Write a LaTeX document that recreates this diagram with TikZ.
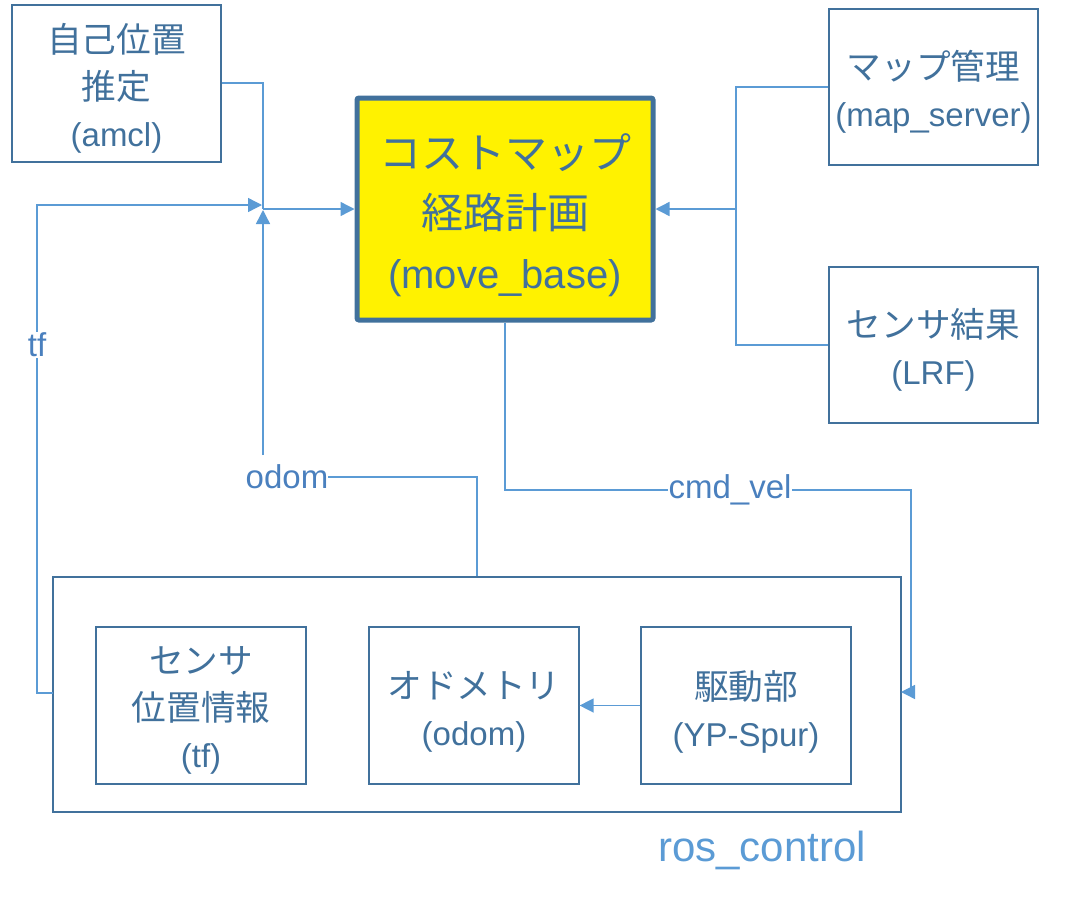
\documentclass[tikz,border=0pt]{standalone}
\usepackage{fontspec}
\setmainfont{Liberation Sans}
\newfontfamily\jp[Scale=1.05]{Noto Sans CJK JP}
\usetikzlibrary{arrows.meta}
\definecolor{boxline}{HTML}{41719C}
\definecolor{conn}{HTML}{5B9BD5}
\definecolor{lbl}{HTML}{4A80BE}
\definecolor{roscol}{HTML}{5B9BD5}
\tikzset{
  box/.style={draw=boxline, line width=1.2pt, inner sep=0pt},
  mainbox/.style={draw=boxline, line width=5pt, rounded corners=2pt, fill=yellow, inner sep=0pt},
  txt/.style={inner sep=0pt, align=center, text=boxline, font=\fontsize{33}{47}\selectfont},
  bigtxt/.style={inner sep=0pt, align=center, text=boxline, font=\fontsize{40}{60}\selectfont},
  conline/.style={draw=conn, line width=1.4pt},
  ar/.style={conline, -{Triangle[length=14pt,width=14pt]}},
  lab/.style={fill=white, inner sep=1pt, text=lbl, font=\fontsize{33}{40}\selectfont}
}
\begin{document}
\begin{tikzpicture}[x=1pt,y=-1pt]
\useasboundingbox (0,0) rectangle (1077,900);
% boxes
\node[box, minimum width=209pt, minimum height=157pt] (amcl) at (116.5,83.5) {};
\node[mainbox, minimum width=296pt, minimum height=222pt] (mb) at (505,209) {};
\node[box, minimum width=209pt, minimum height=156pt] (map) at (933.5,87) {};
\node[box, minimum width=209pt, minimum height=156pt] (lrf) at (933.5,345) {};
\node[box, minimum width=848pt, minimum height=235pt] (ros) at (477,694.5) {};
\node[box, minimum width=210pt, minimum height=157pt] (tfb) at (201,705.5) {};
\node[box, minimum width=210pt, minimum height=157pt] (odb) at (474,705.5) {};
\node[box, minimum width=210pt, minimum height=157pt] (ypb) at (746,705.5) {};
% texts
\node[txt] (amclt) at ([yshift=-5pt]amcl.center) {{\jp 自己位置}\\{\jp 推定}\\(amcl)};
\node[bigtxt] (mbt) at ([yshift=-6pt]mb.center) {{\jp コストマップ}\\{\jp 経路計画}\\(move\_base)};
\node[txt] (mapt) at ([yshift=-5pt]map.center) {{\jp マップ管理}\\(map\_server)};
\node[txt] (lrft) at ([yshift=-5pt]lrf.center) {{\jp センサ結果}\\(LRF)};
\node[txt] (tfbt) at ([yshift=-5pt]tfb.center) {{\jp センサ}\\{\jp 位置情報}\\(tf)};
\node[txt] (odbt) at ([yshift=-6pt]odb.center) {{\jp オドメトリ}\\(odom)};
\node[txt] (ypbt) at ([yshift=-6pt]ypb.center) {{\jp 駆動部}\\(YP-Spur)};
\node[text=roscol, font=\fontsize{42}{50}\selectfont, inner sep=0pt] (roslabel) at (762,850) {ros\_control};
% coordinates
\coordinate (ja) at (263,83);
\coordinate (jb) at (263,209);
\coordinate (tfa) at (37,693);
\coordinate (tfb1) at (37,205);
\coordinate (tfc) at (262,205);
\coordinate (oda) at (477,477);
\coordinate (odb1) at (263,455);
\coordinate (odc) at (263,210);
\coordinate (ra) at (736,87);
\coordinate (rb) at (736,345);
\coordinate (rc) at (736,209);
\coordinate (ca) at (505,490);
\coordinate (cb) at (911,490);
\coordinate (cc) at (911,692);
\coordinate (cd) at (901,692);
\coordinate (tfe) at (53,693);
% amcl -> move_base
\draw[conline] (amcl.east |- ja) -- (ja) -- (jb);
\draw[ar] (jb) -- (jb -| mb.west);
% tf
\draw[ar] (tfe) -- (tfa) -- (tfb1) -- (tfc);
\node[lab] (tflab) at (37,345) {tf};
% odom
\node[lab, fill=none, inner sep=0pt] (odlab) at (287,477) {odom};
\draw[conline] (ros.north -| oda) -- (oda) -- (odlab.east |- oda);
\draw[ar] (odb1) -- (odc);
% right side
\draw[conline] (map.west |- ra) -- (ra) -- (rb) -- (lrf.west |- rb);
\draw[ar] (rc) -- (rc -| mb.east);
% cmd_vel
\draw[conline] (mb.south -| ca) -- (ca) -- (cb) -- (cc);
\draw[ar] (cc) -- (cd);
\node[lab] (cmdlab) at (730,490) {cmd\_vel};
% yp -> odom
\draw[ar] (ypb.west) -- (odb.east);
\end{tikzpicture}
\end{document}
